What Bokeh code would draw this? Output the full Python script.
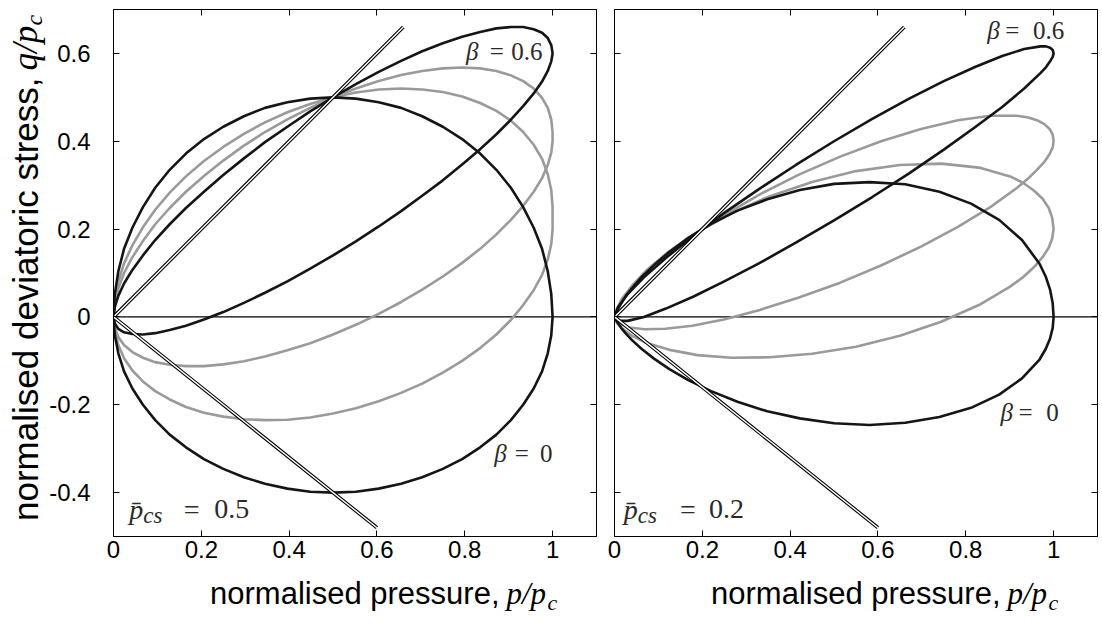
import math
from bokeh.plotting import figure
from bokeh.layouts import row, column
from bokeh.models import Range1d, FixedTicker, LinearAxis, Label, Span
from bokeh.embed import file_html
from bokeh.resources import INLINE

# ---------------- data ----------------
x_ticks = [0.0, 0.2, 0.4, 0.6, 0.8, 1.0]
x_tick_labels = ["0", "0.2", "0.4", "0.6", "0.8", "1"]
y_ticks = [-0.4, -0.2, 0.0, 0.2, 0.4, 0.6]
y_tick_labels = ["-0.4", "-0.2", "0", "0.2", "0.4", "0.6"]

# left panel, p_cs = 0.5 : pressure samples shared by all four surfaces
p_left = [1.0, 0.997, 0.989, 0.976, 0.957, 0.933, 0.905, 0.872, 0.835, 0.794, 0.750,
          0.703, 0.655, 0.604, 0.552, 0.500, 0.448, 0.396, 0.345, 0.297, 0.250,
          0.206, 0.165, 0.128, 0.095, 0.067, 0.043, 0.024, 0.011, 0.003, 0.0]
q_left_b0_up = [0.0, 0.052, 0.104, 0.155, 0.203, 0.250, 0.294, 0.335, 0.372, 0.405, 0.433,
                0.457, 0.476, 0.489, 0.497, 0.500, 0.497, 0.489, 0.476, 0.457, 0.433,
                0.405, 0.372, 0.335, 0.294, 0.250, 0.203, 0.155, 0.104, 0.052, 0.0]
q_left_b0_lo = [0.0, -0.042, -0.083, -0.124, -0.163, -0.200, -0.235, -0.268, -0.297, -0.324, -0.346,
                -0.365, -0.380, -0.391, -0.398, -0.400, -0.398, -0.391, -0.380, -0.365, -0.346,
                -0.324, -0.297, -0.268, -0.235, -0.200, -0.163, -0.124, -0.083, -0.042, 0.0]
q_left_g1_up = [0.250, 0.289, 0.325, 0.360, 0.392, 0.421, 0.447, 0.469, 0.487, 0.502, 0.512,
                0.518, 0.520, 0.518, 0.511, 0.500, 0.485, 0.466, 0.443, 0.417, 0.387,
                0.355, 0.320, 0.283, 0.244, 0.204, 0.163, 0.122, 0.081, 0.040, 0.0]
q_left_g1_lo = [0.200, 0.166, 0.131, 0.096, 0.061, 0.027, -0.007, -0.040, -0.071, -0.100, -0.127,
                -0.152, -0.173, -0.192, -0.208, -0.220, -0.229, -0.234, -0.235, -0.233, -0.227,
                -0.218, -0.205, -0.188, -0.169, -0.147, -0.122, -0.094, -0.064, -0.033, 0.0]
q_left_g2_up = [0.420, 0.449, 0.476, 0.499, 0.520, 0.537, 0.550, 0.560, 0.566, 0.568, 0.566,
                0.560, 0.551, 0.537, 0.520, 0.500, 0.476, 0.450, 0.421, 0.390, 0.356,
                0.321, 0.285, 0.248, 0.211, 0.173, 0.136, 0.100, 0.065, 0.031, 0.0]
q_left_g2_lo = [0.400, 0.374, 0.346, 0.316, 0.285, 0.253, 0.221, 0.188, 0.155, 0.123, 0.092,
                0.062, 0.034, 0.007, -0.018, -0.040, -0.060, -0.076, -0.090, -0.101, -0.108,
                -0.112, -0.112, -0.109, -0.103, -0.093, -0.080, -0.064, -0.046, -0.024, 0.0]
q_left_b6_up = [0.600, 0.619, 0.635, 0.647, 0.655, 0.660, 0.660, 0.657, 0.649, 0.638, 0.623,
                0.605, 0.583, 0.558, 0.530, 0.500, 0.468, 0.433, 0.398, 0.361, 0.323,
                0.285, 0.248, 0.211, 0.175, 0.140, 0.107, 0.076, 0.048, 0.023, 0.0]
q_left_b6_lo = [0.600, 0.582, 0.560, 0.536, 0.509, 0.480, 0.449, 0.416, 0.382, 0.347, 0.311,
                0.276, 0.241, 0.206, 0.172, 0.140, 0.110, 0.081, 0.055, 0.032, 0.011,
                -0.006, -0.020, -0.030, -0.037, -0.040, -0.039, -0.035, -0.027, -0.015, 0.0]

# right panel, p_cs = 0.2
p_right_b0 = [1.0, 0.998, 0.992, 0.982, 0.968, 0.928, 0.876, 0.812, 0.740, 0.662, 0.581, 0.500, 0.422,
              0.348, 0.280, 0.220, 0.168, 0.125, 0.090, 0.062, 0.041, 0.026, 0.016, 0.009, 0.005,
              0.002, 0.001, 0.0]
q_right_b0_up = [0.0, 0.031, 0.062, 0.092, 0.121, 0.175, 0.221, 0.258, 0.285, 0.302, 0.307, 0.303, 0.289,
                 0.268, 0.242, 0.212, 0.180, 0.148, 0.118, 0.091, 0.067, 0.048, 0.032, 0.020, 0.012,
                 0.007, 0.003, 0.0]
q_right_b0_lo = [0.0, -0.025, -0.049, -0.073, -0.097, -0.140, -0.177, -0.207, -0.228, -0.241, -0.246,
                 -0.242, -0.231, -0.215, -0.193, -0.169, -0.144, -0.119, -0.095, -0.073, -0.054,
                 -0.038, -0.026, -0.016, -0.010, -0.005, -0.003, 0.0]
p_right_g1 = [1.0, 0.997, 0.989, 0.975, 0.955, 0.931, 0.901, 0.830, 0.744, 0.650, 0.550, 0.450,
              0.354, 0.266, 0.189, 0.125, 0.075, 0.040, 0.017, 0.005, 0.001, 0.0]
q_right_g1_up = [0.200, 0.225, 0.248, 0.269, 0.288, 0.305, 0.320, 0.340, 0.349, 0.346, 0.332, 0.307,
                 0.275, 0.236, 0.193, 0.150, 0.108, 0.071, 0.041, 0.018, 0.005, 0.0]
q_right_g1_lo = [0.200, 0.179, 0.158, 0.136, 0.113, 0.091, 0.069, 0.027, -0.011, -0.043, -0.068, -0.084,
                 -0.092, -0.093, -0.087, -0.075, -0.060, -0.043, -0.026, -0.013, -0.003, 0.0]
p_right_g2 = [1.0, 0.998, 0.991, 0.979, 0.962, 0.942, 0.917, 0.856, 0.782, 0.698, 0.607, 0.514,
              0.420, 0.331, 0.249, 0.177, 0.116, 0.068, 0.034, 0.013, 0.002, 0.0]
q_right_g2_up = [0.400, 0.415, 0.428, 0.439, 0.448, 0.454, 0.458, 0.458, 0.448, 0.428, 0.400, 0.365,
                 0.324, 0.279, 0.231, 0.184, 0.139, 0.097, 0.061, 0.031, 0.010, 0.0]
q_right_g2_lo = [0.400, 0.386, 0.371, 0.353, 0.335, 0.315, 0.294, 0.250, 0.205, 0.160, 0.117, 0.078,
                 0.044, 0.016, -0.006, -0.020, -0.027, -0.028, -0.024, -0.016, -0.007, 0.0]
p_right_b6 = [1.0, 0.998, 0.992, 0.983, 0.970, 0.933, 0.883, 0.821, 0.750, 0.671, 0.587, 0.500,
              0.413, 0.329, 0.250, 0.179, 0.117, 0.067, 0.030, 0.008, 0.0]
q_right_b6_up = [0.600, 0.608, 0.613, 0.616, 0.616, 0.610, 0.594, 0.569, 0.537, 0.497, 0.451, 0.400,
                 0.346, 0.291, 0.237, 0.184, 0.134, 0.090, 0.052, 0.022, 0.0]
q_right_b6_lo = [0.600, 0.592, 0.582, 0.569, 0.555, 0.520, 0.478, 0.432, 0.381, 0.327, 0.273, 0.220,
                 0.169, 0.122, 0.081, 0.046, 0.019, 0.000, -0.009, -0.009, 0.0]

# critical state lines (compression slope 1, extension slope -0.8)
csl_comp_p = [0.0, 0.66]
csl_comp_q = [0.0, 0.66]
csl_ext_p = [0.0, 0.6]
csl_ext_q = [0.0, -0.48]

BLACK = "#151515"
GRAY = "#9a9a9a"
TEXT = "#2a2a2a"

# layout (pixels)
YLAB_W = 46
FRAME_W, FRAME_H = 483, 527
TOP, BOTTOM = 9, 40
XLAB_H = 44
TOTAL_H = TOP + FRAME_H + BOTTOM + XLAB_H


def closed_loop(p, up, lo):
    return list(reversed(p)) + list(p), list(reversed(up)) + list(lo)


def style_axis(ax, ticks, labels, show, standoff):
    ax.ticker = FixedTicker(ticks=ticks)
    ax.major_label_overrides = {t: (l if show else "") for t, l in zip(ticks, labels)}
    ax.major_tick_in = 6
    ax.major_tick_out = 0
    ax.major_tick_line_color = "black"
    ax.major_tick_line_width = 1
    ax.minor_tick_line_color = None
    ax.axis_line_color = "black"
    ax.axis_line_width = 1
    ax.major_label_text_font = "Liberation Sans"
    ax.major_label_text_font_size = "24px" if show else "1px"
    ax.major_label_text_color = "black"
    ax.major_label_standoff = standoff
    ax.axis_label = None


def make_fig(border_left, border_right, show_ylabels):
    p = figure(frame_width=FRAME_W, frame_height=FRAME_H,
               x_range=Range1d(0, 1.1), y_range=Range1d(-0.5, 0.7),
               output_backend="svg", toolbar_location=None,
               min_border_left=border_left, min_border_right=border_right,
               min_border_top=TOP, min_border_bottom=BOTTOM)
    p.grid.visible = False
    p.outline_line_color = "black"
    p.outline_line_width = 1
    p.background_fill_color = "white"
    p.border_fill_color = "white"
    p.add_layout(LinearAxis(), "right")
    p.add_layout(LinearAxis(), "above")
    style_axis(p.below[0], x_ticks, x_tick_labels, True, 4)
    style_axis(p.above[0], x_ticks, x_tick_labels, False, 0)
    style_axis(p.left[0], y_ticks, y_tick_labels, show_ylabels, 23 if show_ylabels else 0)
    style_axis(p.right[0], y_ticks, y_tick_labels, False, 0)
    p.add_layout(Span(location=0, dimension="width", line_color="black",
                      line_width=1.2, level="underlay"))
    return p


def text_fig(width, height, x0, y0):
    # a bare canvas whose coordinates are page pixels, used for the axis titles
    f = figure(frame_width=width, frame_height=height,
               x_range=Range1d(x0, x0 + width), y_range=Range1d(y0 + height, y0),
               output_backend="svg", toolbar_location=None,
               x_axis_location=None, y_axis_location=None,
               min_border_left=0, min_border_right=0, min_border_top=0, min_border_bottom=0)
    f.grid.visible = False
    f.outline_line_color = None
    f.background_fill_color = "white"
    f.border_fill_color = "white"
    return f


def draw_curves(p, curves):
    for (pp, up, lo, col) in curves:
        xs, ys = closed_loop(pp, up, lo)
        p.line(xs, ys, line_color=col, line_width=2.6, line_join="round", line_cap="round")
    for (xs, ys) in [(csl_comp_p, csl_comp_q), (csl_ext_p, csl_ext_q)]:
        p.line(xs, ys, line_color="black", line_width=3.6, line_cap="butt")
        p.line(xs, ys, line_color="white", line_width=1.4, line_cap="butt")


def txt(p, x, y, text, size, italic=False, align="left", font="Liberation Serif",
        color=TEXT, angle=0.0, xo=0.0, yo=0.0):
    # the anchor (x, y) is where the text baseline should sit
    s = float(size[:-2])
    if angle == 0.0:
        yo += 0.333 * s
    else:
        xo -= 0.333 * s
    p.add_layout(Label(x=x, y=y, text=text, text_font=font, text_font_size=size,
                       text_font_style="italic" if italic else "normal",
                       text_align=align, text_baseline="alphabetic", text_color=color,
                       angle=angle, x_offset=xo, y_offset=yo))


# ---------------- left panel ----------------
p1 = make_fig(65, 9, True)
draw_curves(p1, [
    (p_left, q_left_g1_up, q_left_g1_lo, GRAY),
    (p_left, q_left_g2_up, q_left_g2_lo, GRAY),
    (p_left, q_left_b0_up, q_left_b0_lo, BLACK),
    (p_left, q_left_b6_up, q_left_b6_lo, BLACK),
])
txt(p1, 0.803, 0.586, "β", "25px", italic=True)
txt(p1, 0.857, 0.586, "=", "25px")
txt(p1, 0.977, 0.586, "0.6", "25px", align="right")
txt(p1, 0.867, -0.331, "β", "25px", italic=True)
txt(p1, 0.914, -0.331, "=", "25px")
txt(p1, 1.0, -0.331, "0", "25px", align="right")
txt(p1, 0.036, -0.459, "p\u0304", "28px", italic=True)
txt(p1, 0.036, -0.459, "cs", "23px", italic=True, xo=14, yo=-5)
txt(p1, 0.160, -0.459, "=", "28px")
txt(p1, 0.309, -0.459, "0.5", "28px", align="right")

# ---------------- right panel ----------------
p2 = make_fig(9, 7, False)
draw_curves(p2, [
    (p_right_g1, q_right_g1_up, q_right_g1_lo, GRAY),
    (p_right_g2, q_right_g2_up, q_right_g2_lo, GRAY),
    (p_right_b0, q_right_b0_up, q_right_b0_lo, BLACK),
    (p_right_b6, q_right_b6_up, q_right_b6_lo, BLACK),
])
txt(p2, 0.849, 0.634, "β", "25px", italic=True)
txt(p2, 0.890, 0.634, "=", "25px")
txt(p2, 1.024, 0.634, "0.6", "25px", align="right")
txt(p2, 0.879, -0.2355, "β", "25px", italic=True)
txt(p2, 0.920, -0.2355, "=", "25px")
txt(p2, 1.012, -0.2355, "0", "25px", align="right")
txt(p2, 0.021, -0.459, "p\u0304", "28px", italic=True)
txt(p2, 0.021, -0.459, "cs", "23px", italic=True, xo=14, yo=-5)
txt(p2, 0.149, -0.459, "=", "28px")
txt(p2, 0.295, -0.459, "0.2", "28px", align="right")

# ---------------- axis titles (page-pixel canvases) ----------------
ylab = text_fig(YLAB_W, TOTAL_H, 0, 0)
txt(ylab, 37, 77, "normalised deviatoric stress,", "35px", align="right",
    font="Liberation Sans", color="black", angle=math.pi / 2)
txt(ylab, 37, 70, "q/p", "35px", italic=True, color="black", angle=math.pi / 2)
txt(ylab, 41, 25, "c", "24px", italic=True, color="black", angle=math.pi / 2)

xlab_w = (65 + FRAME_W + 9) + (9 + FRAME_W + 7)
xlab = text_fig(xlab_w, XLAB_H, YLAB_W, TOP + FRAME_H + BOTTOM)
for shift in (0, 501):
    txt(xlab, 499 + shift, 603, "normalised pressure,", "31px", align="right",
        font="Liberation Sans", color="black")
    txt(xlab, 506 + shift, 603, "p/p", "31px", italic=True, color="black")
    txt(xlab, 547 + shift, 609, "c", "22px", italic=True, color="black")

layout = row(ylab, column(row(p1, p2), xlab))
open("out.html", "w").write(file_html(layout, INLINE))
